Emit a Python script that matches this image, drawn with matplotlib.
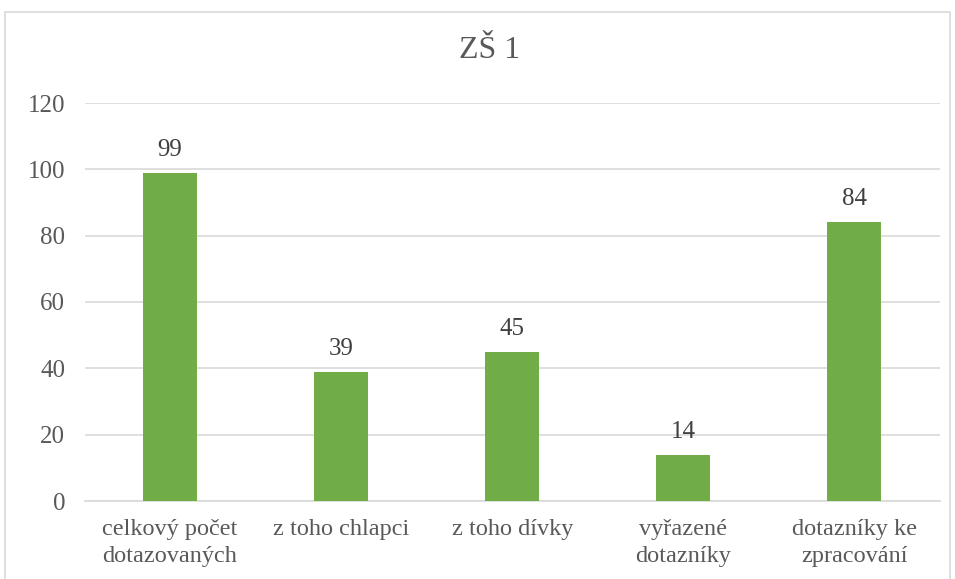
import matplotlib.pyplot as plt
from matplotlib.patches import Rectangle

categories = ["celkový počet\ndotazovaných", "z toho chlapci", "z toho dívky",
              "vyřazené\ndotazníky", "dotazníky ke\nzpracování"]
values = [99, 39, 45, 14, 84]
yticks = [0, 20, 40, 60, 80, 100, 120]

plt.rcParams['font.family'] = ['Liberation Serif', 'DejaVu Serif']
text_col = '#595959'
bar_col = '#70ad47'

fig = plt.figure(figsize=(9.55, 5.79), dpi=100)
fig.patches.append(Rectangle((5 / 955, -0.05), 945 / 955, 1.05 - 12 / 579,
                             transform=fig.transFigure, fill=False,
                             edgecolor='#d9d9d9', linewidth=1.2))
ax = fig.add_axes([84.5 / 955, 78 / 579, 855.5 / 955, 398 / 579])

x = range(len(categories))
bars = ax.bar(x, values, width=0.316, color=bar_col, zorder=3)
for b, v in zip(bars, values):
    ax.text(b.get_x() + b.get_width() / 2, v + 3.6, str(v), ha='center',
            va='bottom', fontsize=18, color='#404040')

ax.set_xlim(-0.5, len(categories) - 0.5)
ax.set_ylim(0, 120)
ax.set_yticks(yticks)
ax.set_xticks(list(x))
ax.set_xticklabels(categories, fontsize=17.5, color=text_col, linespacing=1.35)
ax.tick_params(axis='y', labelsize=18, labelcolor=text_col, length=0, pad=14)
ax.tick_params(axis='x', length=0, pad=13)
ax.grid(axis='y', color='#d9d9d9', linewidth=1.2, zorder=0)
for s in ['top', 'right', 'left']:
    ax.spines[s].set_visible(False)
ax.spines['bottom'].set_color('#d9d9d9')
ax.spines['bottom'].set_linewidth(1.2)

fig.text(490 / 955, 1 - 50 / 579, "ZŠ 1", ha='center', va='center',
         fontsize=23, color=text_col)

fig.savefig('out.png', dpi=100)
